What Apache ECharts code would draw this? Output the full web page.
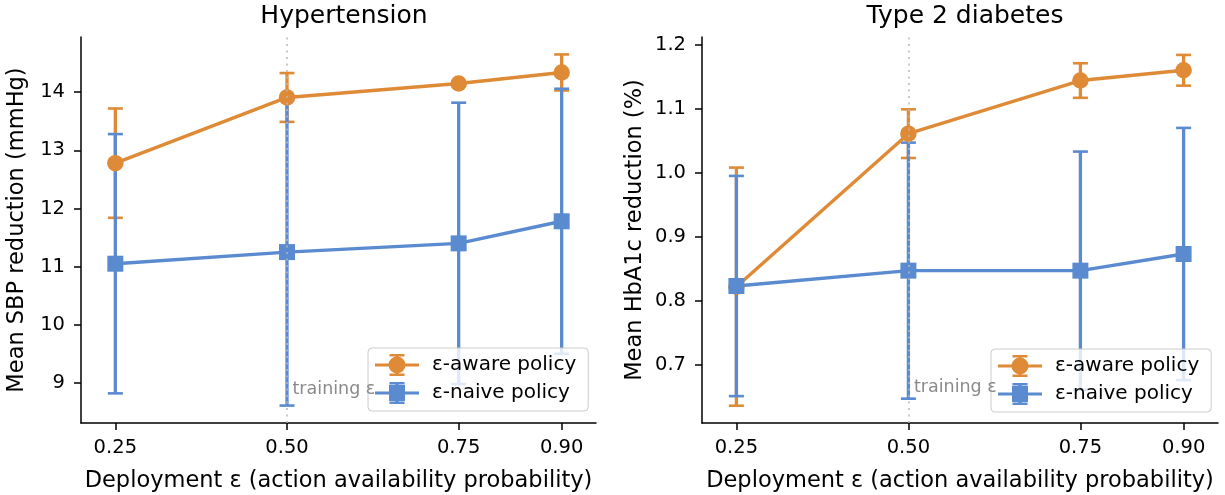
<!DOCTYPE html>
<html>
<head>
<meta charset="utf-8">
<script src="https://cdn.jsdelivr.net/npm/echarts@6.0.0/dist/echarts.min.js"></script>
<style>
  html, body {margin:0;padding:0;background:#fff;}
  #chart {width:1225px;height:495px;}
</style>
</head>
<body>
<div id="chart"></div>
<script>
// deployment epsilon values (x positions) and tick labels
var epsVals = [0.25, 0.50, 0.75, 0.90];
var xTicks = [0.25, 0.50, 0.75, 0.90];
var trainingEps = 0.5;

// Hypertension: mean SBP reduction (mmHg) +- error
var sbpAware = [12.78, 13.91, 14.15, 14.34];
var sbpAwareErr = [0.94, 0.42, 0.04, 0.31];
var sbpNaive = [11.05, 11.25, 11.40, 11.78];
var sbpNaiveErr = [2.23, 2.64, 2.42, 2.28];
var sbpTicks = [9, 10, 11, 12, 13, 14];

// Type 2 diabetes: mean HbA1c reduction (%) +- error
var hbAware = [0.822, 1.061, 1.144, 1.160];
var hbAwareErr = [0.186, 0.038, 0.027, 0.024];
var hbNaive = [0.823, 0.847, 0.847, 0.873];
var hbNaiveErr = [0.172, 0.200, 0.186, 0.197];
var hbTicks = [0.7, 0.8, 0.9, 1.0, 1.1, 1.2];

var ORANGE = '#df8a36', BLUE = '#5a8bd0';
var FONT = 'DejaVu Sans';
var AWARE = 'ε-aware policy', NAIVE = 'ε-naive policy';

var chart = echarts.init(document.getElementById('chart'));

function pts(vals) { return epsVals.map(function (x, i) { return [x, vals[i]]; }); }
function errs(vals, e) { return epsVals.map(function (x, i) { return [x, vals[i] - e[i], vals[i] + e[i]]; }); }

function renderErr(params, api) {
  var x = api.value(0);
  var top = api.coord([x, api.value(2)]);
  var bot = api.coord([x, api.value(1)]);
  var c = api.visual('color');
  var cw = 7.5;
  return {
    type: 'group',
    children: [
      {type: 'line', shape: {x1: top[0], y1: top[1], x2: bot[0], y2: bot[1]}, style: {stroke: c, lineWidth: 3.3}},
      {type: 'line', shape: {x1: top[0] - cw, y1: top[1], x2: top[0] + cw, y2: top[1]}, style: {stroke: c, lineWidth: 2.6}},
      {type: 'line', shape: {x1: bot[0] - cw, y1: bot[1], x2: bot[0] + cw, y2: bot[1]}, style: {stroke: c, lineWidth: 2.6}}
    ]
  };
}

var awareIcon = 'path://M0,9.4L44,9.4L44,12.6L0,12.6Z M20.3,1L23.7,1L23.7,21L20.3,21Z M14.5,0L29.5,0L29.5,2.4L14.5,2.4Z M14.5,19.6L29.5,19.6L29.5,22L14.5,22Z M13.5,11A8.5,8.5 0 1,1 30.5,11A8.5,8.5 0 1,1 13.5,11Z';
var naiveIcon = 'path://M0,9.4L44,9.4L44,12.6L0,12.6Z M20.3,1L23.7,1L23.7,21L20.3,21Z M14.5,0L29.5,0L29.5,2.4L14.5,2.4Z M14.5,19.6L29.5,19.6L29.5,22L14.5,22Z M14,3L30,3L30,19L14,19Z';

function xAxisFor(idx) {
  return {
    type: 'value', gridIndex: idx, min: 0.2, max: 0.95,
    name: 'Deployment ε (action availability probability)',
    nameLocation: 'middle', nameGap: 47,
    nameTextStyle: {fontFamily: FONT, fontSize: 22.5, color: '#000'},
    axisLine: {show: true, onZero: false, lineStyle: {color: '#000', width: 1.5}},
    axisTick: {show: true, length: 7, lineStyle: {color: '#000', width: 1.5}, customValues: xTicks},
    axisLabel: {fontFamily: FONT, fontSize: 19.5, color: '#000', margin: 15, customValues: xTicks,
      formatter: function (v) { return v.toFixed(2); }},
    splitLine: {show: false}
  };
}

function yAxisFor(idx, name, min, max, ticks, digits, gap) {
  return {
    type: 'value', gridIndex: idx, min: min, max: max,
    name: name, nameLocation: 'middle', nameGap: gap,
    nameTextStyle: {fontFamily: FONT, fontSize: 22.5, color: '#000'},
    axisLine: {show: true, onZero: false, lineStyle: {color: '#000', width: 1.5}},
    axisTick: {show: true, length: 7, lineStyle: {color: '#000', width: 1.5}, customValues: ticks},
    axisLabel: {fontFamily: FONT, fontSize: 19.5, color: '#000', margin: 16, customValues: ticks,
      formatter: function (v) { return v.toFixed(digits); }},
    splitLine: {show: false}
  };
}

function legendFor(left, top) {
  return {
    left: left, top: top, orient: 'vertical',
    itemWidth: 44, itemHeight: 22, itemGap: 6,
    padding: [6, 12, 7, 7],
    backgroundColor: 'rgba(255,255,255,0.8)',
    borderColor: '#cccccc', borderWidth: 1, borderRadius: 4,
    textStyle: {fontFamily: FONT, fontSize: 20, color: '#000', padding: [0, 0, 0, 8]},
    data: [{name: AWARE, icon: awareIcon}, {name: NAIVE, icon: naiveIcon}]
  };
}

function panelSeries(idx, aware, awareErr, naive, naiveErr, textY) {
  return [
    {type: 'custom', name: 'aware-err' + idx, xAxisIndex: idx, yAxisIndex: idx, z: 1,
      itemStyle: {color: ORANGE}, renderItem: renderErr, encode: {x: 0, y: [1, 2]},
      data: errs(aware, awareErr)},
    {type: 'custom', name: 'naive-err' + idx, xAxisIndex: idx, yAxisIndex: idx, z: 1,
      itemStyle: {color: BLUE}, renderItem: renderErr, encode: {x: 0, y: [1, 2]},
      data: errs(naive, naiveErr)},
    {type: 'line', name: 'training' + idx, xAxisIndex: idx, yAxisIndex: idx, z: 2, data: [],
      markLine: {silent: true, symbol: 'none', label: {show: false},
        lineStyle: {color: '#b8b8b8', width: 1.5, type: [2, 4.5]},
        data: [{xAxis: trainingEps}]},
      markPoint: {silent: true, symbol: 'circle', symbolSize: 1, itemStyle: {color: 'rgba(0,0,0,0)'},
        label: {show: true, position: 'right', distance: 5, formatter: 'training ε',
          fontFamily: FONT, fontSize: 17.5, color: '#8a8a8a'},
        data: [{coord: [trainingEps, textY]}]}},
    {type: 'line', name: AWARE, xAxisIndex: idx, yAxisIndex: idx, z: 3,
      symbol: 'circle', symbolSize: 16.5, color: ORANGE,
      itemStyle: {color: ORANGE}, lineStyle: {color: ORANGE, width: 3.4},
      data: pts(aware)},
    {type: 'line', name: NAIVE, xAxisIndex: idx, yAxisIndex: idx, z: 3,
      symbol: 'rect', symbolSize: 16, color: BLUE,
      itemStyle: {color: BLUE}, lineStyle: {color: BLUE, width: 3.4},
      data: pts(naive)}
  ];
}

var titleStyle = {fontFamily: FONT, fontSize: 25, fontWeight: 'normal', color: '#000'};

var option = {
  animation: false,
  backgroundColor: '#fff',
  title: [
    {text: 'Hypertension', left: 339, top: -1, textAlign: 'center', textStyle: titleStyle},
    {text: 'Type 2 diabetes', left: 960, top: -1, textAlign: 'center', textStyle: titleStyle}
  ],
  legend: [legendFor(368, 348), legendFor(991, 349)],
  grid: [
    {left: 81, top: 37, width: 515, height: 386, outerBoundsMode: 'none', containLabel: false},
    {left: 702, top: 37, width: 516, height: 386, outerBoundsMode: 'none', containLabel: false}
  ],
  xAxis: [xAxisFor(0), xAxisFor(1)],
  yAxis: [
    yAxisFor(0, 'Mean SBP reduction (mmHg)', 8.31, 14.95, sbpTicks, 0, 52),
    yAxisFor(1, 'Mean HbA1c reduction (%)', 0.609, 1.212, hbTicks, 1, 55)
  ],
  series: [].concat(
    panelSeries(0, sbpAware, sbpAwareErr, sbpNaive, sbpNaiveErr, 8.88),
    panelSeries(1, hbAware, hbAwareErr, hbNaive, hbNaiveErr, 0.664)
  )
};

chart.setOption(option);
window.onresize = function () { chart.resize(); };
</script>
</body>
</html>
